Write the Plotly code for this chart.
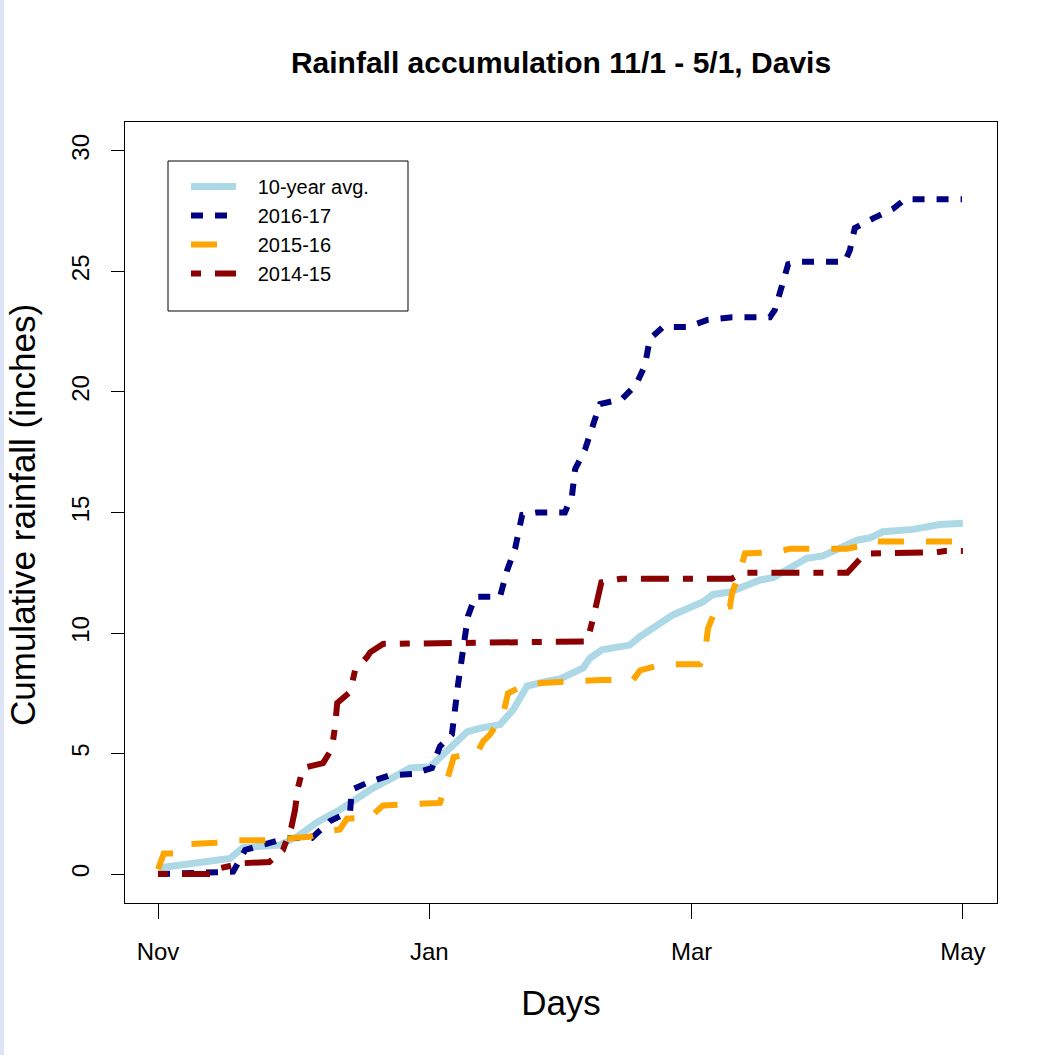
import plotly.graph_objects as go

# ---- tick labels ----
month_ticks = [0, 61, 120, 181]
month_labels = ["Nov", "Jan", "Mar", "May"]
rain_ticks = [0, 5, 10, 15, 20, 25, 30]

# ---- series (day since Nov 1, cumulative inches) ----
avg_days = [0, 8.8, 16.2, 19.1, 27.4, 31.3, 35.8, 40.3, 43.2, 47.7, 52.8, 56.7, 61.2,
            65.0, 69.5, 72.4, 76.9, 79.8, 83.0, 87.5, 90.4, 95.6, 97.1, 99.8, 106.1,
            108.4, 112.9, 115.8, 122.6, 124.8, 128.6, 132.4, 135.4, 138.3, 145.9,
            149.5, 157.2, 160.1, 163.0, 169.8, 172.0, 175.8, 181.0]
avg_rain = [0.25, 0.45, 0.65, 1.1, 1.2, 1.55, 2.15, 2.6, 2.95, 3.5, 4.0, 4.4, 4.45,
            5.1, 5.9, 6.05, 6.2, 6.8, 7.8, 8.0, 8.1, 8.55, 8.95, 9.3, 9.5,
            9.85, 10.4, 10.75, 11.3, 11.6, 11.7, 12.0, 12.2, 12.3, 13.1,
            13.2, 13.85, 13.95, 14.2, 14.3, 14.4, 14.5, 14.55]

y1617_days = [0, 16.9, 19.6, 24.0, 29.0, 34.6, 38.7, 43.2, 43.6, 47.2, 52.2, 57.3, 61.6,
              63.4, 66.1, 67.5, 68.4, 69.7, 71.3, 76.9, 78.5, 80.3, 81.9, 85.2, 91.5,
              93.1, 93.8, 96.0, 97.6, 99.4, 104.3, 107.5, 109.5, 110.6, 113.6, 119.2,
              123.7, 129.1, 137.6, 138.7, 140.3, 141.7, 144.4, 154.5, 155.6, 156.7,
              160.8, 165.3, 168.0, 180.8]
y1617_rain = [0.0, 0.1, 1.0, 1.25, 1.5, 1.5, 2.2, 2.6, 3.5, 3.8, 4.1, 4.15, 4.4,
              5.3, 5.8, 7.9, 8.9, 10.7, 11.5, 11.5, 12.6, 13.5, 14.9, 15.0, 15.0,
              15.7, 16.8, 17.6, 18.5, 19.5, 19.7, 20.3, 21.1, 22.2, 22.7, 22.7,
              23.0, 23.1, 23.1, 23.4, 24.4, 25.3, 25.4, 25.4, 25.9, 26.8,
              27.2, 27.6, 28.0, 28.0]

y1516_days = [0, 1.3, 5.0, 7.5, 13.0, 18.0, 24.0, 29.0, 34.0, 38.7, 40.9, 42.5, 47.7,
              50.6, 63.4, 65.0, 66.1, 66.5, 71.8, 73.1, 74.7, 77.6, 78.7, 83.0, 99.4,
              106.8, 108.4, 113.6, 121.9, 123.0, 123.7, 125.7, 128.6, 129.1, 130.9,
              132.0, 139.2, 142.1, 154.9, 157.9, 160.1, 181.0]
y1516_rain = [0.2, 0.85, 0.85, 1.25, 1.3, 1.4, 1.4, 1.45, 1.55, 1.8, 1.85, 2.3, 2.35,
              2.85, 2.95, 3.9, 4.8, 4.85, 5.05, 5.5, 5.8, 6.6, 7.5, 7.9, 8.05,
              8.05, 8.45, 8.7, 8.7, 9.2, 10.2, 11.1, 11.1, 11.65, 12.6,
              13.3, 13.35, 13.5, 13.5, 13.6, 13.8, 13.8]

y1415_days = [0, 12.8, 14.0, 19.0, 25.0, 28.1, 30.0, 30.8, 31.5, 32.6, 37.1, 39.1, 39.8,
              40.3, 43.2, 44.3, 47.0, 47.7, 50.6, 96.5, 97.9, 99.7, 104.0, 129.0,
              131.5, 155.0, 156.0, 157.0, 159.0, 175.0, 177.0, 181.0]
y1415_rain = [0.0, 0.0, 0.25, 0.45, 0.5, 1.0, 1.95, 2.65, 3.6, 4.4, 4.6, 5.2, 6.1,
              7.1, 7.55, 8.45, 9.0, 9.2, 9.55, 9.65, 10.65, 12.1, 12.25, 12.25,
              12.5, 12.5, 12.7, 12.9, 13.3, 13.35, 13.4, 13.4]

series_names = ["10-year avg.", "2016-17", "2015-16", "2014-15"]

FONT = "Liberation Sans, Arial, sans-serif"
PAD = "\u00a0\u00a0\u00a0"

fig = go.Figure()
fig.add_trace(go.Scatter(x=avg_days, y=avg_rain, mode="lines", name=PAD + series_names[0],
                         line=dict(color="#ADD8E6", width=7)))
fig.add_trace(go.Scatter(x=y1617_days, y=y1617_rain, mode="lines", name=PAD + series_names[1],
                         line=dict(color="#000080", width=6, dash="12px,12px")))
fig.add_trace(go.Scatter(x=y1516_days, y=y1516_rain, mode="lines", name=PAD + series_names[2],
                         line=dict(color="#FFA500", width=6, dash="26px,22px")))
fig.add_trace(go.Scatter(x=y1415_days, y=y1415_rain, mode="lines", name=PAD + series_names[3],
                         line=dict(color="#8B0000", width=6, dash="10px,14px,28px,14px")))

W, H = 1057, 1055
L, R, T, B = 125, 60, 122, 152
pw, ph = W - L - R, H - T - B

def px_x(p):
    return (p - L) / pw

def px_y(p):
    return (H - B - p) / ph

fig.update_layout(
    width=W, height=H, autosize=False,
    margin=dict(l=L, r=R, t=T, b=B, pad=0),
    paper_bgcolor="white", plot_bgcolor="white",
    font=dict(family=FONT, color="black"),
    title=dict(text="<b>Rainfall accumulation 11/1 - 5/1, Davis</b>",
               font=dict(size=30, family=FONT, color="black"),
               x=0.5, xref="paper", xanchor="center",
               y=1 - 62 / H, yref="container", yanchor="middle"),
    showlegend=True,
    legend=dict(x=px_x(186), y=px_y(167), xanchor="left", yanchor="top",
                bgcolor="rgba(0,0,0,0)", borderwidth=0,
                font=dict(size=20, family=FONT, color="black"),
                itemwidth=45, tracegroupgap=0),
    xaxis=dict(range=[-7.42, 188.67], tickmode="array", tickvals=month_ticks,
               ticktext=month_labels, ticks="outside", ticklen=15, tickwidth=1,
               tickcolor="black", showline=True, mirror=True, linecolor="black",
               linewidth=1, showgrid=False, zeroline=False,
               tickfont=dict(size=24, family=FONT), ticklabelstandoff=12,
               title=dict(text="Days", font=dict(size=35, family=FONT), standoff=26)),
    yaxis=dict(range=[-1.2, 31.2], tickmode="array", tickvals=rain_ticks,
               ticks="outside", ticklen=13, tickwidth=1, tickcolor="black",
               showline=True, mirror=True, linecolor="black", linewidth=1,
               showgrid=False, zeroline=False, tickangle=-90,
               tickfont=dict(size=24, family=FONT), ticklabelstandoff=12),
    annotations=[
        dict(text="Cumulative rainfall (inches)", textangle=-90, showarrow=False,
             xref="paper", yref="paper", x=px_x(22), y=px_y(515),
             xanchor="center", yanchor="middle",
             font=dict(size=35, family=FONT, color="black")),
    ],
    shapes=[
        dict(type="rect", xref="paper", yref="paper",
             x0=px_x(168), x1=px_x(408), y0=px_y(311), y1=px_y(161),
             line=dict(color="black", width=1), fillcolor="rgba(0,0,0,0)", layer="above"),
        dict(type="rect", xref="paper", yref="paper",
             x0=px_x(0), x1=px_x(4), y0=px_y(H), y1=px_y(0),
             line=dict(width=0), fillcolor="#DCE4F5", layer="above"),
    ],
)

fig.write_html("out.html")
